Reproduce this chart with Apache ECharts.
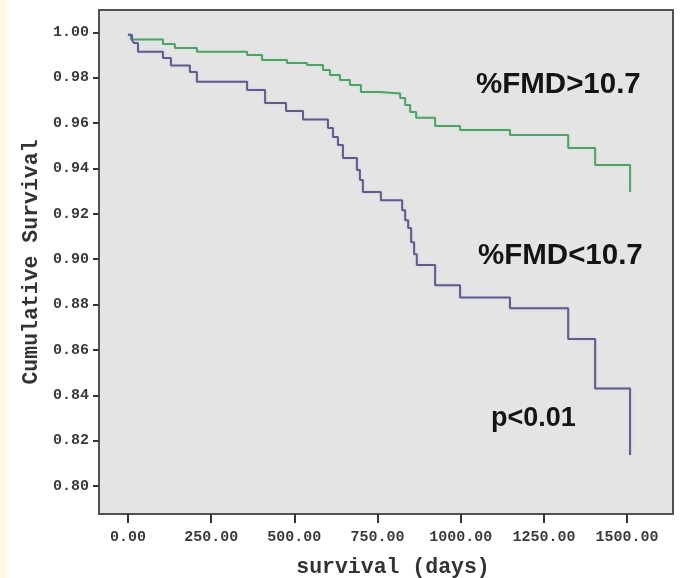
<!DOCTYPE html>
<html>
<head>
<meta charset="utf-8">
<script src="https://cdn.jsdelivr.net/npm/echarts@6/dist/echarts.min.js"></script>
<style>
html,body{margin:0;padding:0;background:#ffffff;}
#chart{width:685px;height:578px;}
</style>
</head>
<body>
<div id="chart"></div>
<script>
// ---- data ----
var xTicks = [0, 250, 500, 750, 1000, 1250, 1500];
var yTicks = [0.80, 0.82, 0.84, 0.86, 0.88, 0.90, 0.92, 0.94, 0.96, 0.98, 1.00];

// %FMD>10.7 (green)
var highDays = [0, 3, 9, 105, 141, 207, 358, 403, 478, 538, 586, 607, 637, 667, 700, 757, 818, 833, 848, 866, 923, 998, 1148, 1323, 1404, 1509];
var highSurv = [0.999, 0.9984, 0.9968, 0.9948, 0.9931, 0.9914, 0.9900, 0.9878, 0.9865, 0.9856, 0.9834, 0.9812, 0.9790, 0.9768, 0.9737, 0.9730, 0.9710, 0.9680, 0.9649, 0.9623, 0.9587, 0.9569, 0.9547, 0.9490, 0.9415, 0.9296];

// %FMD<10.7 (blue)
var lowDays = [0, 3, 12, 18, 30, 105, 129, 186, 207, 358, 412, 475, 526, 601, 616, 631, 646, 688, 697, 706, 760, 824, 833, 842, 851, 860, 868, 923, 998, 1148, 1323, 1404, 1509];
var lowSurv = [0.999, 0.9988, 0.9966, 0.9953, 0.9914, 0.9887, 0.9854, 0.9825, 0.9782, 0.9746, 0.9688, 0.9653, 0.9616, 0.9578, 0.9539, 0.9503, 0.9446, 0.9393, 0.9349, 0.9296, 0.9260, 0.9216, 0.9172, 0.9137, 0.9075, 0.9022, 0.8974, 0.8885, 0.8831, 0.8784, 0.8648, 0.8430, 0.8137];

var labelHigh = '%FMD>10.7';
var labelLow = '%FMD<10.7';
var labelP = 'p<0.01';

function pairs(xs, ys) { return xs.map(function (x, i) { return [x, ys[i]]; }); }

var chart = echarts.init(document.getElementById('chart'), null, {renderer: 'canvas'});
var mono = '"Liberation Mono", "Courier New", monospace';
var sans = '"Liberation Sans", Arial, Helvetica, sans-serif';

chart.setOption({
  animation: false,
  backgroundColor: '#ffffff',
  grid: {
    left: 99, top: 10, right: 12, bottom: 64,
    outerBoundsMode: 'none', containLabel: false,
    show: true, backgroundColor: '#e4e4e4', borderColor: '#505050', borderWidth: 2
  },
  xAxis: {
    type: 'value',
    min: -87.2, max: 1638,
    name: 'survival (days)',
    nameLocation: 'middle',
    nameGap: 43,
    nameTextStyle: {fontFamily: mono, fontWeight: 'bold', fontSize: 21.5, color: '#333', padding: [0, 0, 0, 14]},
    splitLine: {show: false},
    axisLine: {show: true, onZero: false, lineStyle: {color: '#505050', width: 2}},
    axisTick: {show: true, customValues: xTicks, length: 9, lineStyle: {color: '#333', width: 2}},
    axisLabel: {
      customValues: xTicks, margin: 16,
      fontFamily: mono, fontWeight: 'bold', fontSize: 15, color: '#3a3a3a',
      formatter: function (v) { return v.toFixed(2); }
    }
  },
  yAxis: {
    type: 'value',
    min: 0.78766, max: 1.00983,
    name: 'Cumulative Survival',
    nameLocation: 'middle',
    nameGap: 47,
    nameTextStyle: {fontFamily: mono, fontWeight: 'bold', fontSize: 21.5, color: '#333'},
    splitLine: {show: false},
    axisLine: {show: true, onZero: false, lineStyle: {color: '#505050', width: 2}},
    axisTick: {show: true, customValues: yTicks, length: 6, lineStyle: {color: '#333', width: 2}},
    axisLabel: {
      customValues: yTicks, margin: 10,
      fontFamily: mono, fontWeight: 'bold', fontSize: 15, color: '#3a3a3a',
      formatter: function (v) { return v.toFixed(2); }
    }
  },
  series: [
    {
      name: labelHigh, type: 'line', step: 'end', showSymbol: false,
      data: pairs(highDays, highSurv),
      lineStyle: {color: '#52a066', width: 2, shadowColor: 'rgba(150,240,190,0.6)', shadowBlur: 2},
      itemStyle: {color: '#52a066'}
    },
    {
      name: labelLow, type: 'line', step: 'end', showSymbol: false,
      data: pairs(lowDays, lowSurv),
      lineStyle: {color: '#5d5d88', width: 2, shadowColor: 'rgba(180,180,255,0.5)', shadowBlur: 2},
      itemStyle: {color: '#5d5d88'}
    }
  ],
  graphic: [
    {type: 'rect', left: 0, top: 0, z: -10, shape: {width: 7, height: 578}, style: {fill: '#fdf9e6'}},
    {type: 'text', x: 476, y: 85, style: {text: labelHigh, font: 'bold 29.5px ' + sans, fill: '#141414', align: 'left', verticalAlign: 'middle'}},
    {type: 'text', x: 478, y: 256, style: {text: labelLow, font: 'bold 29.5px ' + sans, fill: '#141414', align: 'left', verticalAlign: 'middle'}},
    {type: 'text', x: 491, y: 419, style: {text: labelP, font: 'bold 27px ' + sans, fill: '#141414', align: 'left', verticalAlign: 'middle'}}
  ]
});
</script>
</body>
</html>
